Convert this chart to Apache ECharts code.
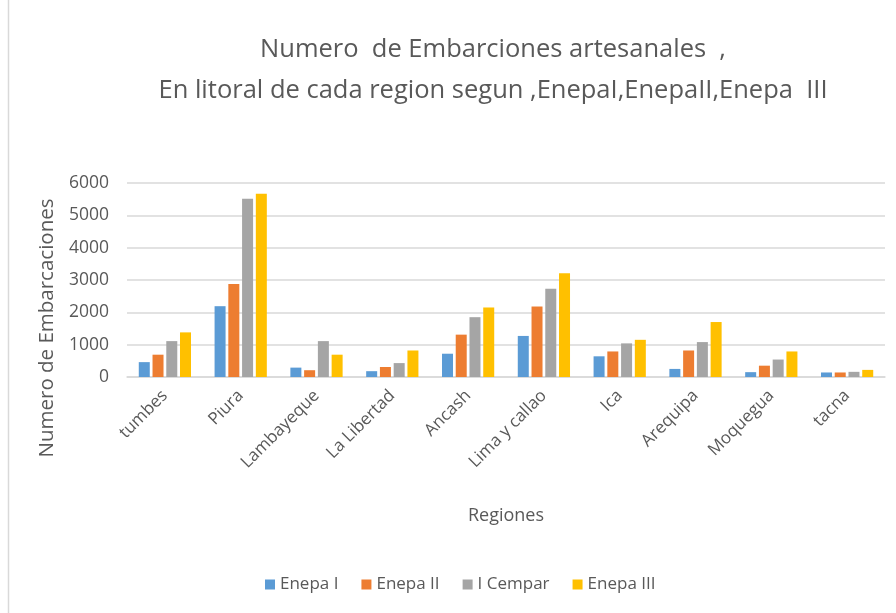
<!DOCTYPE html>
<html>
<head>
<meta charset="utf-8">
<script src="https://cdn.jsdelivr.net/npm/echarts@6/dist/echarts.min.js"></script>
<style>
  html, body { margin: 0; padding: 0; background: #fff; }
  #chart { width: 896px; height: 613px; }
</style>
</head>
<body>
<div id="chart"></div>
<script>
  // Regions on the x axis
  const regions = ['tumbes', 'Piura', 'Lambayeque', 'La Libertad', 'Ancash', 'Lima y callao', 'Ica', 'Arequipa', 'Moquegua', 'tacna']

  // Values
  const enepa1 = [460, 2190, 290, 180, 720, 1270, 640, 250, 150, 140]
  const enepa2 = [690, 2880, 210, 310, 1310, 2180, 790, 820, 350, 140]
  const cempar = [1110, 5510, 1110, 430, 1850, 2730, 1040, 1080, 540, 160]
  const enepa3 = [1380, 5670, 690, 820, 2150, 3210, 1150, 1700, 790, 220]

  const yTicks = [0, 1000, 2000, 3000, 4000, 5000, 6000]

  const font = '"Open Sans", sans-serif'
  const gray = '#595959'

  const chart = echarts.init(document.getElementById('chart'))

  const mkSeries = (name, data, color) => ({
    name,
    type: 'bar',
    data,
    barWidth: 11,
    barGap: '25%',
    itemStyle: { color }
  })

  chart.setOption({
    animation: false,
    backgroundColor: '#fff',
    textStyle: { fontFamily: font },
    title: {
      text: 'Numero  de Embarciones artesanales  ,\nEn litoral de cada region segun ,EnepaI,EnepaII,Enepa  III',
      left: 488,
      top: 24,
      textAlign: 'center',
      textStyle: { fontFamily: font, fontSize: 25.5, fontWeight: 'normal', color: gray, lineHeight: 41 }
    },
    legend: {
      data: ['Enepa I', 'Enepa II', 'I Cempar', 'Enepa III'],
      left: 260,
      top: 571,
      itemWidth: 10,
      itemHeight: 10,
      itemGap: 23,
      icon: 'rect',
      textStyle: { fontFamily: font, fontSize: 17, color: gray }
    },
    grid: { left: 127, right: 11, top: 183, bottom: 236 },
    xAxis: {
      type: 'category',
      data: regions,
      name: 'Regiones',
      nameLocation: 'middle',
      nameGap: 130,
      nameTextStyle: { fontFamily: font, fontSize: 18, color: gray },
      axisLine: { lineStyle: { color: '#d9d9d9', width: 1.5 } },
      axisTick: { show: false },
      axisLabel: { rotate: 45, fontSize: 17, color: gray, margin: 16, interval: 0 }
    },
    yAxis: {
      type: 'value',
      min: yTicks[0],
      max: yTicks[yTicks.length - 1],
      interval: 1000,
      name: 'Numero de Embarcaciones',
      nameLocation: 'middle',
      nameGap: 67,
      nameTextStyle: { fontFamily: font, fontSize: 20.5, color: gray, padding: [0, 96, 0, 0] },
      axisLine: { show: false },
      axisTick: { show: false },
      axisLabel: { fontSize: 17.5, color: gray, margin: 18, formatter: (v) => String(v) },
      splitLine: { lineStyle: { color: '#d9d9d9', width: 1.5 } }
    },
    graphic: [
      {
        type: 'line',
        shape: { x1: 8.5, y1: 0, x2: 8.5, y2: 613 },
        style: { stroke: '#d9d9d9', lineWidth: 1.5 },
        silent: true
      }
    ],
    series: [
      mkSeries('Enepa I', enepa1, '#5b9bd5'),
      mkSeries('Enepa II', enepa2, '#ed7d31'),
      mkSeries('I Cempar', cempar, '#a5a5a5'),
      mkSeries('Enepa III', enepa3, '#ffc000')
    ]
  })
</script>
</body>
</html>
